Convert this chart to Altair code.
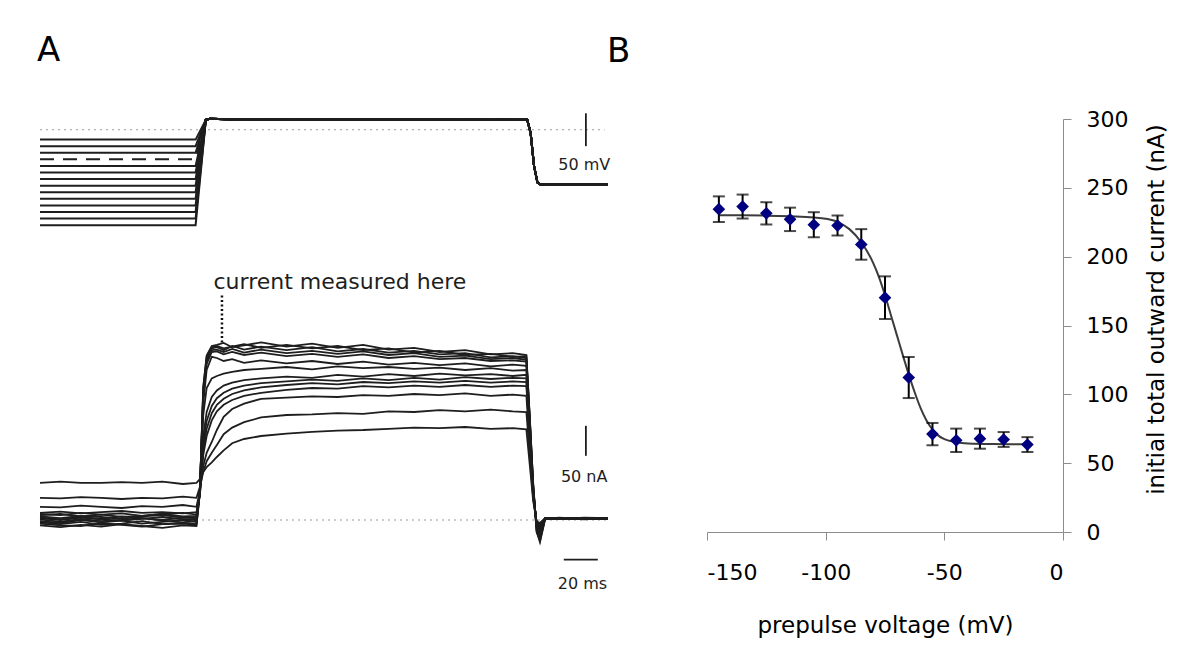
import altair as alt
import pandas as pd

FONT = "DejaVu Sans"
INK = "#1e1e1e"

# ---------------- Panel A : voltage protocol (mV) ----------------
PREPULSE_MV = [-145, -135, -125, -115, -105, -95, -85, -75, -65, -55, -45, -35, -25, -15]
V_TIME_MS = [0, 91.5, 97.5, 100, 115, 286.5, 288.5, 290.5, 292.5, 294, 334]
V_PULSE_SHAPE = [15, 16.5, 15.5, 15, -5, -55, -80, -83, -83]   # from t = 97.5 ms on
DASHED_TRACE_MV = -45
V_ZERO_LINE_T = [0, 332]

# ---------------- Panel A : current traces (nA) ----------------
I_TIME_MS = [0, 12, 24, 36, 48, 60, 72, 84, 92,
             94, 96, 98, 101, 104, 108, 113, 120, 130,
             145, 160, 175, 190, 205, 220, 235, 250, 265, 278, 286,
             288, 290, 292, 294, 297, 305, 320, 334]

I_M145 = [-9, -12, -8, -11, -7, -10, -13, -9, -10,
          45, 220, 272, 288, 290, 286, 289, 293, 287,
          292, 286, 290, 283, 286, 279, 282, 275, 277, 272, 273,
          170, 60, -20, -35, 2, 3, 1, 3]
I_M135 = [-6, -9, -10, -5, -8, -11, -7, -6, -8,
          46, 222, 274, 290, 292, 295, 288, 291, 296,
          289, 294, 287, 292, 284, 287, 280, 283, 276, 278, 275,
          172, 62, -18, -37, 1, 4, 2, 2]
I_M125 = [-4, -7, -3, -8, -6, -2, -7, -5, -6,
          47, 215, 268, 286, 288, 283, 290, 284, 289,
          283, 288, 281, 285, 279, 282, 276, 278, 271, 273, 270,
          168, 58, -15, -30, 2, 3, 3, 2]
I_M115 = [-2, -5, 0, -4, -1, -6, -3, 0, -3,
          48, 210, 264, 283, 284, 280, 285, 279, 284,
          278, 282, 277, 281, 275, 278, 272, 274, 268, 270, 267,
          165, 55, -12, -27, 3, 2, 4, 3]
I_M105 = [1, -3, 2, -2, 0, 3, -1, -4, -1,
          49, 205, 260, 280, 281, 276, 280, 275, 279,
          273, 277, 272, 276, 270, 273, 268, 270, 265, 266, 264,
          160, 52, -10, -24, 2, 3, 2, 3]
I_M95 = [3, 0, 4, 1, -1, 2, 5, 1, 1,
         50, 195, 250, 272, 270, 265, 268, 262, 266,
         261, 265, 260, 264, 259, 262, 258, 261, 256, 259, 257,
         155, 50, -8, -20, 3, 2, 3, 2]
I_M85 = [4, 1, 5, 2, 6, 3, 0, 4, 3,
         48, 175, 220, 236, 240, 244, 247, 250, 252,
         255, 251, 256, 253, 255, 252, 254, 250, 253, 249, 250,
         150, 48, -8, -18, 2, 3, 2, 3]
I_M75 = [6, 3, 7, 5, 2, 6, 8, 4, 5,
         46, 140, 180, 205, 216, 224, 229, 233, 236,
         239, 237, 242, 239, 243, 240, 244, 241, 243, 240, 242,
         145, 46, -6, -16, 3, 2, 3, 2]
I_M65 = [8, 10, 6, 9, 5, 7, 10, 6, 7,
         44, 128, 165, 190, 203, 212, 219, 224, 228,
         231, 234, 232, 236, 233, 237, 234, 238, 235, 237, 236,
         140, 45, -6, -14, 2, 3, 2, 3]
I_M55 = [10, 8, 12, 9, 11, 7, 10, 12, 9,
         42, 118, 152, 178, 192, 202, 210, 216, 221,
         225, 228, 226, 230, 228, 231, 229, 232, 229, 231, 230,
         138, 44, -5, -12, 3, 2, 3, 2]
I_M45 = [12, 14, 11, 13, 15, 12, 13, 11, 13,
         42, 108, 140, 166, 181, 192, 200, 207, 212,
         217, 220, 219, 223, 221, 224, 222, 225, 222, 224, 223,
         134, 43, -5, -10, 2, 3, 2, 3]
I_M35 = [22, 21, 24, 22, 20, 23, 22, 25, 22,
         48, 90, 112, 130, 150, 172, 185, 194, 202,
         204, 206, 205, 208, 207, 210, 208, 211, 207, 209, 207,
         124, 40, -4, -8, 3, 2, 3, 2]
I_M25 = [37, 36, 38, 37, 35, 37, 36, 39, 37,
         55, 80, 98, 112, 125, 143, 154, 163, 171,
         175, 176, 178, 177, 181, 180, 183, 181, 184, 181, 180,
         108, 36, -3, -6, 2, 3, 2, 3]
I_M15 = [62, 64, 62, 62, 63, 62, 64, 60, 62,
         68, 80, 88, 96, 105, 116, 128, 135, 140,
         144, 147, 149, 150, 152, 154, 153, 155, 152, 153, 151,
         92, 32, -2, -5, 3, 2, 3, 2]
I_TRACES = [I_M145, I_M135, I_M125, I_M115, I_M105, I_M95, I_M85,
            I_M75, I_M65, I_M55, I_M45, I_M35, I_M25, I_M15]
I_ZERO_LINE_T = [0, 334]

# annotations of panel A
V_BAR = {"t": [321], "lo": [-25], "hi": [25]}
V_BAR_LABEL = {"t": [320], "v": [-53], "label": ["50 mV"]}
I_BAR = {"t": [321], "lo": [107], "hi": [157]}
I_BAR_LABEL = {"t": [320], "i": [72], "label": ["50 nA"]}
T_BAR = {"t0": [308], "t1": [328], "i": [-66]}
T_BAR_LABEL = {"t": [319], "i": [-106], "label": ["20 ms"]}
MEASURE_MARK = {"t": [107], "lo": [296], "hi": [377]}
MEASURE_LABEL = {"t": [102], "i": [385], "label": ["current measured here"]}

# ---------------- Panel B ----------------
B_V = [-145, -135, -125, -115, -105, -95, -85, -75, -65, -55, -45, -35, -25, -15]
B_MEAN = [234.5, 236.4, 231.5, 227.1, 223.2, 222.6, 208.9, 170.2, 112.2, 71.1, 66.6, 67.8, 67.2, 63.5]
B_SEM = [9.3, 8.7, 8.1, 8.5, 9.1, 7.3, 11.1, 15.5, 14.9, 8.1, 8.5, 7.3, 5.4, 5.4]
FIT_V = [-145, -135, -125, -115, -105, -100, -95, -90, -85, -80, -77.5, -75, -72.5, -70,
         -67.5, -65, -62.5, -60, -57.5, -55, -52.5, -50, -45, -40, -30, -15]
FIT_I = [230, 230, 229.8, 229.3, 228.5, 227.6, 225.3, 220, 210.5, 195.5, 185, 172, 157.5, 143,
         128.5, 114.5, 101.5, 90, 81, 74.5, 70, 67.5, 65.2, 64.3, 63.9, 63.8]

# ---------------- geometry ----------------
A_W, A_H = 568, 473
B_W, B_H = 356, 413
T_DOMAIN = [0, 334]
V_DOMAIN = [-702.6, 16.3]
I_DOMAIN = [-120, 668.3]

xs = alt.Scale(domain=T_DOMAIN, nice=False, zero=False)
vs = alt.Scale(domain=V_DOMAIN, nice=False, zero=False)
cs = alt.Scale(domain=I_DOMAIN, nice=False, zero=False)

# ---- build tables ----
v_rows = []
for vp in PREPULSE_MV:
    vals = [vp, vp] + V_PULSE_SHAPE
    for t, v in zip(V_TIME_MS, vals):
        v_rows.append({"trace": vp, "t": t, "v": v})
vdf = pd.DataFrame(v_rows)

i_rows = []
for vp, tr in zip(PREPULSE_MV, I_TRACES):
    for t, i in zip(I_TIME_MS, tr):
        i_rows.append({"trace": vp, "t": t, "i": i})
idf = pd.DataFrame(i_rows)

Xt = alt.X("t:Q", scale=xs, axis=None)

v_zero = alt.Chart(pd.DataFrame({"t": V_ZERO_LINE_T, "v": [0, 0]})).mark_line(
    color="#9a9a9a", strokeWidth=1.2, strokeDash=[2, 4]
).encode(x=Xt, y=alt.Y("v:Q", scale=vs, axis=None))

v_lines = alt.Chart(vdf[vdf["trace"] != DASHED_TRACE_MV]).mark_line(
    color=INK, strokeWidth=2
).encode(x=Xt, y=alt.Y("v:Q", scale=vs, axis=None), detail="trace:N")

v_dashed = alt.Chart(vdf[vdf["trace"] == DASHED_TRACE_MV]).mark_line(
    color=INK, strokeWidth=2, strokeDash=[14, 9]
).encode(x=Xt, y=alt.Y("v:Q", scale=vs, axis=None))

v_bar = alt.Chart(pd.DataFrame(V_BAR)).mark_rule(color=INK, strokeWidth=1.8).encode(
    x=Xt, y=alt.Y("lo:Q", scale=vs, axis=None), y2="hi:Q")

v_bar_txt = alt.Chart(pd.DataFrame(V_BAR_LABEL)).mark_text(
    font=FONT, fontSize=16, color=INK, align="center", baseline="middle"
).encode(x=Xt, y=alt.Y("v:Q", scale=vs, axis=None), text="label:N")

i_zero = alt.Chart(pd.DataFrame({"t": I_ZERO_LINE_T, "i": [0, 0]})).mark_line(
    color="#9a9a9a", strokeWidth=1.2, strokeDash=[2, 4]
).encode(x=Xt, y=alt.Y("i:Q", scale=cs, axis=None))

i_lines = alt.Chart(idf).mark_line(color=INK, strokeWidth=1.8).encode(
    x=Xt, y=alt.Y("i:Q", scale=cs, axis=None), detail="trace:N")

meas = alt.Chart(pd.DataFrame(MEASURE_MARK)).mark_rule(
    color="#111111", strokeWidth=2.5, strokeDash=[2, 2.5]
).encode(x=Xt, y=alt.Y("lo:Q", scale=cs, axis=None), y2="hi:Q")

meas_txt = alt.Chart(pd.DataFrame(MEASURE_LABEL)).mark_text(
    font=FONT, fontSize=22, color=INK, align="left", baseline="alphabetic"
).encode(x=Xt, y=alt.Y("i:Q", scale=cs, axis=None), text="label:N")

i_bar = alt.Chart(pd.DataFrame(I_BAR)).mark_rule(color=INK, strokeWidth=1.8).encode(
    x=Xt, y=alt.Y("lo:Q", scale=cs, axis=None), y2="hi:Q")

i_bar_txt = alt.Chart(pd.DataFrame(I_BAR_LABEL)).mark_text(
    font=FONT, fontSize=16, color=INK, align="center", baseline="middle"
).encode(x=Xt, y=alt.Y("i:Q", scale=cs, axis=None), text="label:N")

t_bar = alt.Chart(pd.DataFrame(T_BAR)).mark_rule(color=INK, strokeWidth=1.8).encode(
    x=alt.X("t0:Q", scale=xs, axis=None), x2="t1:Q",
    y=alt.Y("i:Q", scale=cs, axis=None))

t_bar_txt = alt.Chart(pd.DataFrame(T_BAR_LABEL)).mark_text(
    font=FONT, fontSize=16, color=INK, align="center", baseline="middle"
).encode(x=Xt, y=alt.Y("i:Q", scale=cs, axis=None), text="label:N")

panel_a = alt.layer(
    v_zero, v_lines, v_dashed, v_bar, v_bar_txt,
    i_zero, i_lines, meas, meas_txt, i_bar, i_bar_txt, t_bar, t_bar_txt
).resolve_scale(y="independent").properties(
    width=A_W, height=A_H,
    title=alt.TitleParams("A", anchor="start", frame="group", font=FONT, fontSize=34,
                          fontWeight="normal", color="#000000", dx=-3, offset=44),
)

# ---- panel B ----
bdf = pd.DataFrame({"v": B_V, "i": B_MEAN, "sem": B_SEM})
bdf["lo"] = bdf["i"] - bdf["sem"]
bdf["hi"] = bdf["i"] + bdf["sem"]
fdf = pd.DataFrame({"v": FIT_V, "i": FIT_I})

x_axis = alt.Axis(values=[-150, -100, -50, 0], title="prepulse voltage (mV)", grid=False,
                  labelExpr="'' + datum.value",
                  domainColor="#8c8c8c", tickColor="#8c8c8c", tickSize=8,
                  labelFont=FONT, labelFontSize=22, labelColor="#000000", labelPadding=22,
                  titleFont=FONT, titleFontSize=23, titleFontWeight="normal",
                  titleColor="#000000", titleY=100, titleBaseline="alphabetic")
y_axis = alt.Axis(orient="right", values=[0, 50, 100, 150, 200, 250, 300],
                  title="initial total outward current (nA)", grid=False,
                  domainColor="#8c8c8c", tickColor="#8c8c8c", tickSize=8,
                  labelFont=FONT, labelFontSize=22, labelColor="#000000", labelPadding=15,
                  titleFont=FONT, titleFontSize=23, titleFontWeight="normal",
                  titleColor="#000000", titleAngle=270, titleX=100, titleY=190,
                  titleAlign="center", titleBaseline="alphabetic")
bx = alt.Scale(domain=[-150, 0], nice=False, zero=False)
by = alt.Scale(domain=[0, 300], nice=False)

fit = alt.Chart(fdf).mark_line(color="#3c3c3c", strokeWidth=2, interpolate="monotone").encode(
    x=alt.X("v:Q", scale=bx, axis=x_axis), y=alt.Y("i:Q", scale=by, axis=y_axis))
err = alt.Chart(bdf).mark_rule(color="#000000", strokeWidth=2).encode(
    x=alt.X("v:Q", scale=bx, axis=x_axis), y=alt.Y("lo:Q", scale=by, axis=y_axis), y2="hi:Q")
cap_lo = alt.Chart(bdf).mark_tick(color="#000000", thickness=2, size=12, orient="horizontal").encode(
    x=alt.X("v:Q", scale=bx, axis=x_axis), y=alt.Y("lo:Q", scale=by, axis=y_axis))
cap_hi = alt.Chart(bdf).mark_tick(color="#000000", thickness=2, size=12, orient="horizontal").encode(
    x=alt.X("v:Q", scale=bx, axis=x_axis), y=alt.Y("hi:Q", scale=by, axis=y_axis))
pts = alt.Chart(bdf).mark_point(shape="diamond", filled=True, size=160, color="#000080", opacity=1).encode(
    x=alt.X("v:Q", scale=bx, axis=x_axis), y=alt.Y("i:Q", scale=by, axis=y_axis))

panel_b = alt.layer(fit, err, cap_lo, cap_hi, pts).properties(
    width=B_W, height=B_H,
    title=alt.TitleParams("B", anchor="start", frame="group", font=FONT, fontSize=34,
                          fontWeight="normal", color="#000000", dx=-100, offset=39),
)

chart = alt.hconcat(panel_a, panel_b, spacing=99, bounds="flush").properties(
    padding={"left": 28, "top": 26, "right": 4, "bottom": 4}
).configure_view(stroke=None)

chart.save("out.html", embed_options={"renderer": "svg", "actions": False})
